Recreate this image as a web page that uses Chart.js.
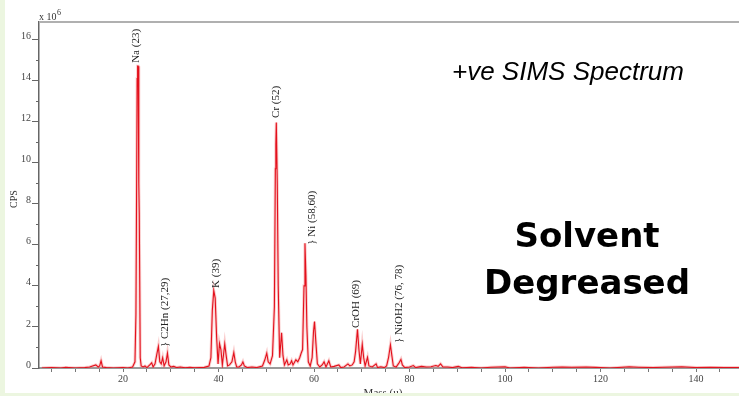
<!DOCTYPE html>
<html>
<head>
<meta charset="utf-8">
<script src="https://cdn.jsdelivr.net/npm/chart.js@4.4.1/dist/chart.umd.min.js"></script>
<style>
  html, body { margin: 0; padding: 0; background: #ecf6e0; }
  #wrap { width: 739px; height: 396px; position: relative; }
</style>
</head>
<body>
<div id="wrap"><canvas id="myChart" width="739" height="396"></canvas></div>
<script>
// mass (u)
const massValues = [
  3, 5, 7, 8, 10, 12, 13, 14.3, 14.8, 15.1, 15.4, 15.7, 16.5, 18, 20, 21,
  22, 22.5, 22.7, 22.85, 22.95, 23.05, 23.15, 23.3, 23.4, 23.6, 23.8, 24.2, 24.6, 25,
  25.6, 26.0, 26.3, 26.7, 27.1, 27.4, 27.7, 28.0, 28.3, 28.6, 29.0, 29.3, 29.6, 30.0,
  30.6, 31.2, 32, 33, 34, 35, 36, 37,
  38.0, 38.4, 38.7, 39.0, 39.3, 39.6, 39.9, 40.2, 40.5, 40.8, 41.3, 41.6, 41.9, 42.3,
  42.8, 43.2, 43.5, 43.8, 44.3, 44.8, 45.1, 45.4, 46, 47, 48,
  49.2, 49.7, 50.1, 50.4, 50.8, 51.3, 51.7, 51.9, 52.0, 52.1, 52.3, 52.5, 52.8, 53.2,
  53.5, 53.8, 54.3, 54.6, 55.0, 55.3, 55.6, 56.2, 56.6, 57.0, 57.3, 57.6, 57.9, 58.1,
  58.3, 58.5, 58.8, 59.2, 59.6, 59.9, 60.1, 60.4, 60.7, 61.2, 61.7, 62.1, 62.5, 63.1,
  63.5, 64.2, 65.2, 65.6, 66.3, 67.1, 67.5, 68.0, 68.4, 68.7, 69.1, 69.4, 69.7, 70.1,
  70.4, 70.7, 71.2, 71.5, 72.2, 73.0, 73.3, 74, 74.7, 75.2, 75.6, 76.0, 76.3, 76.6,
  77.2, 77.8, 78.2, 78.5, 79, 80, 80.8, 81.3, 82.5, 83.5, 84.5, 85.5, 86.0, 86.5,
  87, 88, 89, 90.2, 91, 93, 95, 97, 100, 101, 104, 107, 110, 112, 114, 117, 119,
  122, 126, 128, 131, 133, 137, 140, 143, 146, 149
];
// CPS (x 10^6)
const cpsValues = [
  0, 0.02, 0, 0.03, 0, 0.02, 0.05, 0.15, 0.05, 0.1, 0.35, 0.05, 0.02, 0, 0.02, 0,
  0.05, 0.3, 2.6, 9.0, 14.1, 14.7, 14.7, 9.0, 7.5, 0.5, 0.1, 0.05, 0.1, 0.02,
  0.15, 0.25, 0.05, 0.2, 0.7, 1.05, 0.3, 0.2, 0.5, 0.1, 0.3, 0.72, 0.15, 0.05,
  0.08, 0.02, 0.05, 0.01, 0.03, 0.01, 0.02, 0.03,
  0.1, 0.5, 2.8, 3.77, 3.4, 1.5, 0.2, 1.2, 0.9, 0.15, 1.17, 0.6, 0.1, 0.15,
  0.3, 0.75, 0.3, 0.05, 0.05, 0.15, 0.3, 0.1, 0.02, 0.05, 0.02,
  0.1, 0.4, 0.72, 0.3, 0.2, 0.6, 3.0, 9.7, 10.9, 11.95, 9.0, 4.0, 0.5, 1.72,
  0.6, 0.15, 0.4, 0.15, 0.2, 0.35, 0.15, 0.4, 0.3, 0.5, 0.72, 0.9, 4.0, 6.08,
  4.5, 2.0, 0.3, 0.1, 0.5, 1.8, 2.26, 1.2, 0.2, 0.05, 0.15, 0.3, 0.05, 0.35,
  0.05, 0.08, 0.15, 0.02, 0.05, 0.2, 0.1, 0.15, 0.3, 0.8, 1.88, 0.9, 0.2, 1.15,
  0.5, 0.1, 0.52, 0.1, 0.05, 0.2, 0.02, 0.06, 0.02, 0.1, 0.5, 1.12, 0.6, 0.1,
  0.05, 0.25, 0.42, 0.15, 0.02, 0.05, 0.12, 0.02, 0.08, 0.05, 0.06, 0.12, 0.08, 0.2,
  0.05, 0.05, 0.02, 0.08, 0.01, 0.03, 0, 0.04, 0.06, 0, 0.03, 0, 0.04, 0.05, 0.04, 0.05, 0.03,
  0, 0.06, 0.04, 0.02, 0.04, 0.06, 0.02, 0.03, 0.02, 0.02
];

const xTickMarks = [5, 10, 15, 20, 25, 30, 35, 40, 45, 50, 55, 60, 65, 70, 75, 80, 85, 90,
  95, 100, 105, 110, 115, 120, 125, 130, 135, 140, 145];
const xTickLabels = [20, 40, 60, 80, 100, 120, 140];
const yTickLabels = [0, 2, 4, 6, 8, 10, 12, 14, 16];
const yMinorTicks = [1, 3, 5, 7, 9, 11, 13, 15];

// peak labels: text, mass, cps where the rotated text starts
const peakNames = ["Na (23)", "} C2Hn (27,29)", "K (39)", "Cr (52)", "} Ni (58,60)", "CrOH (69)", "} NiOH2 (76, 78)"];
const peakMass = [22.7, 28.8, 39.5, 52.0, 59.5, 68.8, 77.9];
const peakCps = [14.86, 1.02, 3.9, 12.18, 6.0, 1.95, 1.22];

const spectrum = massValues.map((m, i) => ({ x: m, y: cpsValues[i] }));

const serif = '"Liberation Serif", "DejaVu Serif", serif';

const decorPlugin = {
  id: "decor",
  beforeDraw(chart) {
    const ctx = chart.ctx;
    ctx.save();
    ctx.fillStyle = "#ffffff";
    ctx.fillRect(0, 0, chart.width, chart.height);
    ctx.restore();
  },
  afterDraw(chart) {
    const ctx = chart.ctx;
    const area = chart.chartArea;
    const xs = chart.scales.x;
    const ys = chart.scales.y;
    ctx.save();

    // top frame line
    ctx.strokeStyle = "#b0b0b0";
    ctx.lineWidth = 2;
    ctx.beginPath();
    ctx.moveTo(area.left, area.top);
    ctx.lineTo(area.right, area.top);
    ctx.stroke();

    // minor y ticks
    ctx.strokeStyle = "#666";
    ctx.lineWidth = 1;
    yMinorTicks.forEach(v => {
      const py = Math.round(ys.getPixelForValue(v)) + 0.5;
      ctx.beginPath();
      ctx.moveTo(area.left - 3, py);
      ctx.lineTo(area.left, py);
      ctx.stroke();
    });

    // peak labels
    ctx.fillStyle = "#222";
    ctx.font = "11px " + serif;
    ctx.textAlign = "left";
    ctx.textBaseline = "middle";
    peakNames.forEach((t, i) => {
      ctx.save();
      ctx.translate(xs.getPixelForValue(peakMass[i]), ys.getPixelForValue(peakCps[i]));
      ctx.rotate(-Math.PI / 2);
      ctx.fillText(t, 0, 0);
      ctx.restore();
    });

    // axis titles
    ctx.fillStyle = "#333";
    ctx.font = "10px " + serif;
    ctx.save();
    ctx.translate(14, 199);
    ctx.rotate(-Math.PI / 2);
    ctx.textAlign = "center";
    ctx.fillText("CPS", 0, 0);
    ctx.restore();

    ctx.textAlign = "left";
    ctx.textBaseline = "alphabetic";
    ctx.fillText("x 10", 39, 20);
    ctx.font = "8px " + serif;
    ctx.fillText("6", 57, 15);

    ctx.font = "11px " + serif;
    ctx.textAlign = "center";
    ctx.fillText("Mass (u)", 383, 396);

    // titles
    ctx.fillStyle = "#000";
    ctx.textAlign = "left";
    ctx.font = 'italic 26px "Liberation Sans", Arial, sans-serif';
    ctx.fillText("+ve SIMS Spectrum", 452, 80);

    ctx.textAlign = "center";
    ctx.font = 'bold 34px "DejaVu Sans", sans-serif';
    ctx.fillText("Solvent", 587, 247);
    ctx.fillText("Degreased", 587, 294);

    // page margins
    ctx.fillStyle = "#ecf6e0";
    ctx.fillRect(0, 0, 5, chart.height);
    ctx.fillRect(0, 393, chart.width, chart.height - 393);
    ctx.restore();
  }
};

new Chart(document.getElementById("myChart").getContext("2d"), {
  type: "line",
  data: {
    datasets: [
      {
        label: "halo",
        data: spectrum,
        borderColor: "rgba(240, 110, 110, 0.35)",
        borderWidth: 3,
        pointRadius: 0,
        tension: 0,
        order: 2
      },
      {
        label: "CPS",
        data: spectrum,
        borderColor: "#e3101c",
        borderWidth: 1.1,
        pointRadius: 0,
        tension: 0,
        order: 1
      }
    ]
  },
  options: {
    responsive: false,
    animation: false,
    layout: { padding: { top: 22, left: 0, right: 0, bottom: 0 } },
    plugins: {
      legend: { display: false },
      tooltip: { enabled: false },
      title: { display: false }
    },
    scales: {
      x: {
        type: "linear",
        min: 2.4,
        max: 149,
        afterFit: (s) => { s.height = 28; },
        afterBuildTicks: (s) => { s.ticks = xTickMarks.map(v => ({ value: v })); },
        ticks: {
          autoSkip: false,
          maxRotation: 0,
          padding: 1,
          color: "#444",
          font: { family: serif, size: 10 },
          callback: (v) => xTickLabels.includes(v) ? String(v) : ""
        },
        grid: {
          drawOnChartArea: false,
          drawTicks: true,
          tickLength: 4,
          tickColor: "#777"
        },
        border: { color: "#9a9a9a", width: 2 }
      },
      y: {
        min: 0,
        max: 16.85,
        afterFit: (s) => { s.width = 39; },
        afterBuildTicks: (s) => { s.ticks = yTickLabels.map(v => ({ value: v })); },
        ticks: {
          autoSkip: false,
          padding: 1,
          labelOffset: -3,
          color: "#444",
          font: { family: serif, size: 10 },
          callback: (v) => String(v)
        },
        grid: {
          drawOnChartArea: false,
          drawTicks: true,
          tickLength: 7,
          tickColor: "#666"
        },
        border: { color: "#666", width: 1.5 }
      }
    }
  },
  plugins: [decorPlugin]
});
</script>
</body>
</html>
